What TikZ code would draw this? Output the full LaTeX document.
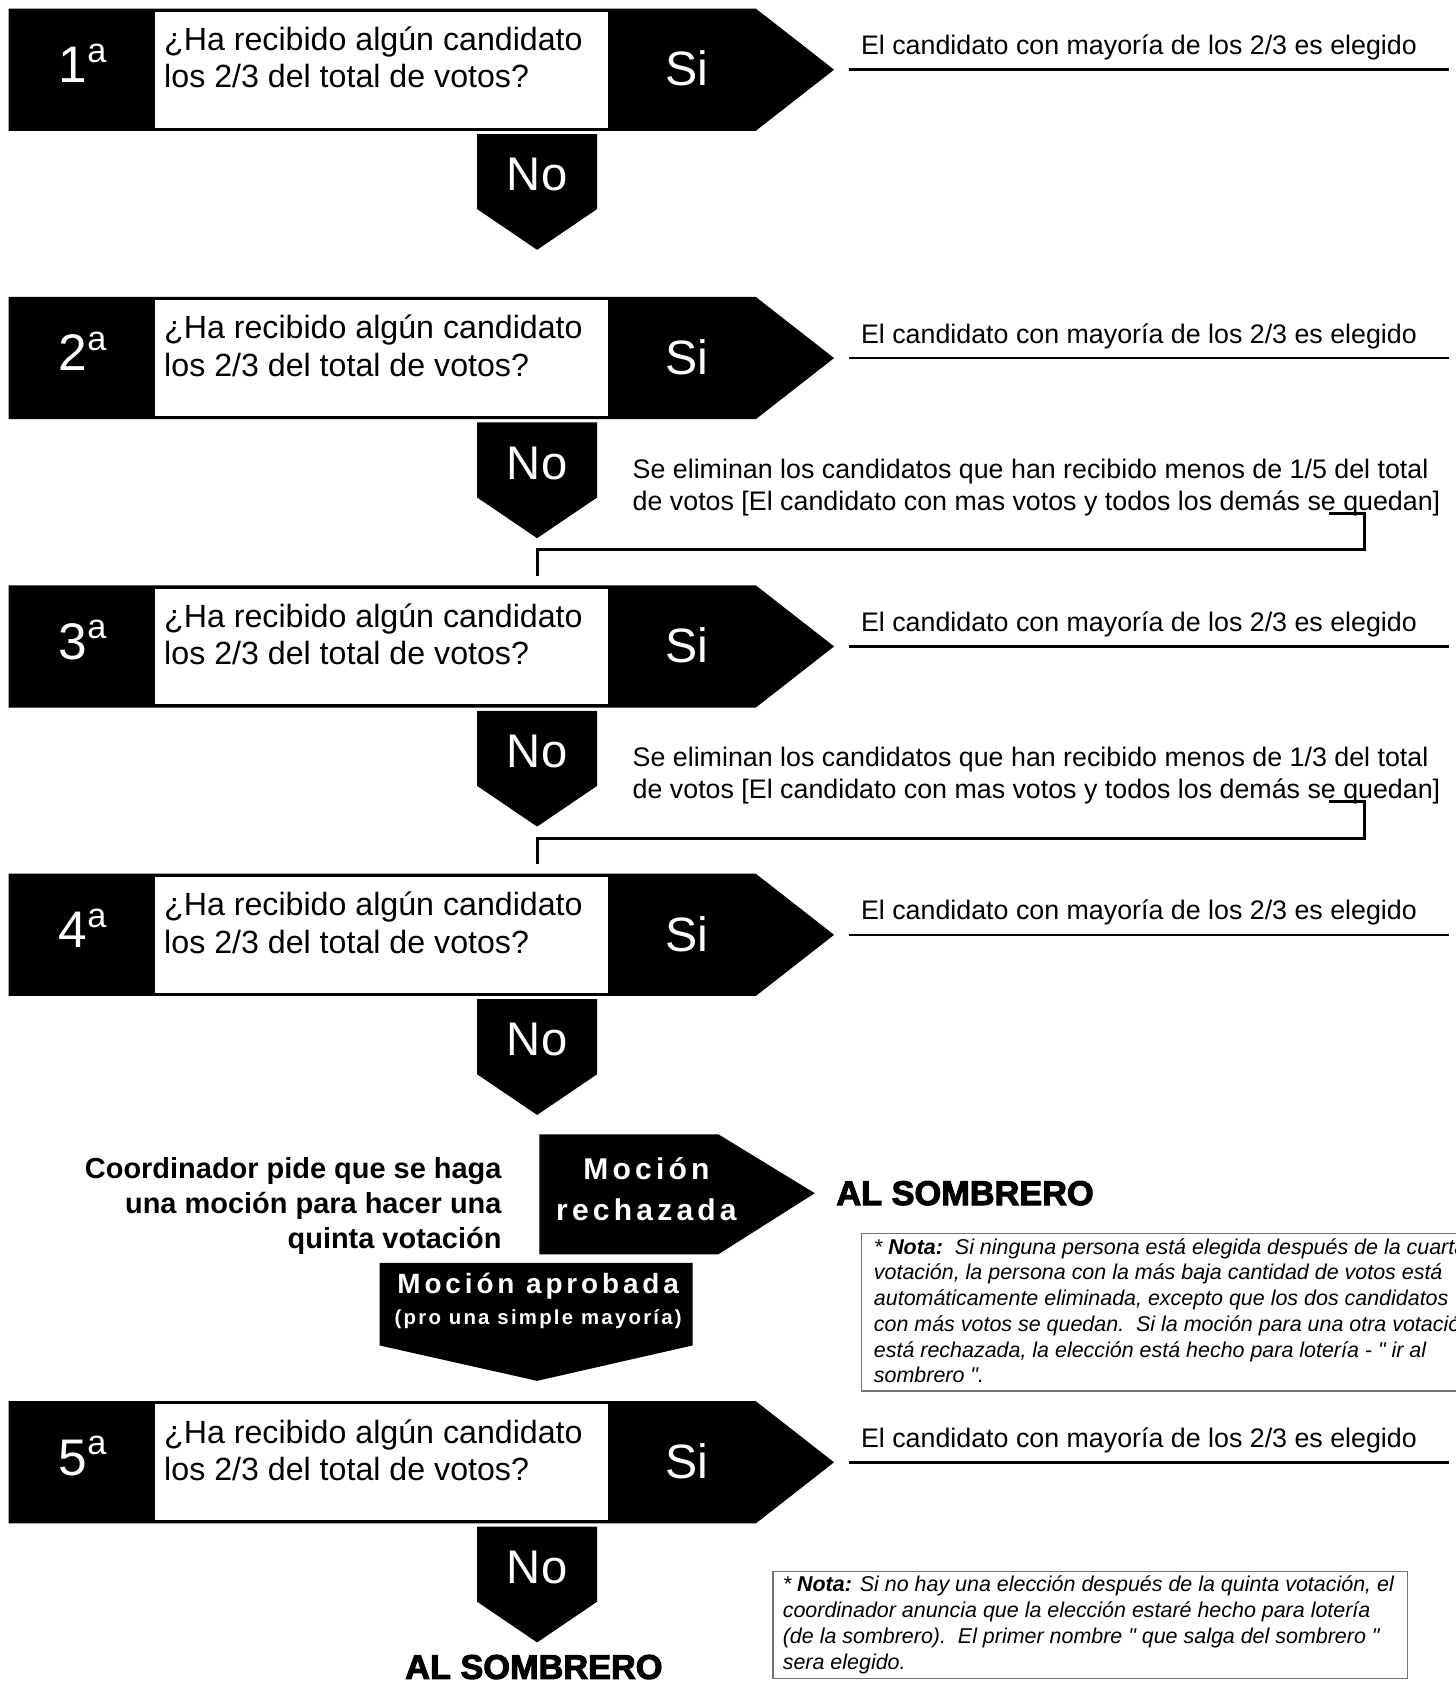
\documentclass[tikz,border=0pt]{standalone}
\usepackage{fontspec}
\setmainfont{Liberation Sans}
\newfontfamily\spacedfont[LetterSpace=14]{Liberation Sans}
\newfontfamily\smallspacedfont[LetterSpace=11]{Liberation Sans}
\newfontfamily\heavyfont[BoldFeatures={FakeBold=3}]{Liberation Sans}
\begin{document}
\begin{tikzpicture}[x=1pt,y=-1pt,
  qline/.style={anchor=base west, inner sep=0, font=\fontsize{30}{35}\selectfont},
  sitext/.style={text=white, inner sep=0, font=\fontsize{45}{45}\selectfont},
  notxt/.style={text=white, inner sep=0, font=\fontsize{44}{44}\selectfont},
  numtext/.style={text=white, anchor=base, inner sep=0},
  restext/.style={anchor=base west, inner sep=0, font=\fontsize{25}{30}\selectfont},
  resline/.style={line width=2.5pt},
  bracket/.style={line width=2.8pt},
  coordtext/.style={anchor=base east, inner sep=0, font=\fontsize{27}{33}\selectfont\bfseries},
  motiontext/.style={text=white, inner sep=0, font=\fontsize{28}{28}\selectfont\spacedfont\bfseries},
  hattext/.style={inner sep=0, font=\fontsize{32}{32}\selectfont\heavyfont\bfseries},
  notebox/.style={draw=black!55, line width=1.5pt},
  notetext/.style={anchor=north west, inner sep=0, align=left, font=\fontsize{20}{24}\selectfont\itshape}
]
\useasboundingbox (0,0) rectangle (1358,1568);
\fill[white] (0,0) rectangle (1358,1568);

\foreach \n/\T in {1/8,2/277,3/546,4/815,5/1307}{
  % row shape
  \fill (8,\T) -- (705,\T) -- (778,\T+57) -- (705,\T+114) -- (8,\T+114) -- cycle;
  \fill[white] (145,\T+3) rectangle (567,\T+111);
  \node[numtext] (num\n) at (77,\T+69) {{\fontsize{48}{48}\selectfont\n}\raisebox{19pt}{\fontsize{32}{32}\selectfont a}};
  \node[qline] (qa\n) at (153,\T+39) {¿Ha recibido algún candidato};
  \node[qline] (qb\n) at (153,\T+74) {los 2/3 del total de votos?};
  \node[sitext] (si\n) at (641,\T+56) {Si};
  % No arrow
  \fill (445,\T+117) -- (557,\T+117) -- (557,\T+187) -- (501,\T+225) -- (445,\T+187) -- cycle;
  \node[notxt] (no\n) at (501,\T+155) {No};
  % result
  \node[restext] (res\n) at (803,\T+43) {El candidato con mayoría de los 2/3 es elegido};
  \coordinate (rl\n) at (792,\T+57);
  \coordinate (rr\n) at (1352,\T+57);
  \draw[resline] (rl\n) -- (rr\n);
}

% eliminations
\node[restext] (ea2) at (590,446) {Se eliminan los candidatos que han recibido menos de 1/5 del total};
\node[restext] (eb2) at (590,476) {de votos [El candidato con mas votos y todos los demás se quedan]};
\coordinate (bs2) at (1240,479);
\coordinate (be2) at (501,537);
\draw[bracket] (bs2) -| (1273,513) -| (be2);

\node[restext] (ea3) at (590,715) {Se eliminan los candidatos que han recibido menos de 1/3 del total};
\node[restext] (eb3) at (590,745) {de votos [El candidato con mas votos y todos los demás se quedan]};
\coordinate (bs3) at (1240,748);
\coordinate (be3) at (501,806);
\draw[bracket] (bs3) -| (1273,782) -| (be3);

% coordinator
\node[coordtext] (c1) at (468,1099) {Coordinador pide que se haga};
\node[coordtext] (c2) at (468,1132) {una moción para hacer una};
\node[coordtext] (c3) at (468,1165) {quinta votación};

% motion rejected
\fill (503,1058) -- (670,1058) -- (760,1113) -- (670,1170) -- (503,1170) -- cycle;
\node[motiontext] (mr1) at (603,1090) {Moción};
\node[motiontext] (mr2) at (603,1128) {rechazada};
\node[hattext, anchor=west] (hat1) at (780,1113) {AL SOMBRERO};

% note 1
\node[notebox, anchor=north west, minimum width=620, minimum height=147, inner sep=0] (nb1) at (803,1150) {};
\node[notetext] (nt1) at (815,1155) {* \textbf{Nota:}\ \ Si ninguna persona está elegida después de la cuarta\\
votación, la persona con la más baja cantidad de votos está\\
automáticamente eliminada, excepto que los dos candidatos\\
con más votos se quedan.\ \ Si la moción para una otra votación\\
está rechazada, la elección está hecho para lotería - \textquotedbl{} ir al\\
sombrero \textquotedbl.};

% motion approved
\fill (354,1178) -- (646,1178) -- (646,1255) -- (501,1288) -- (354,1255) -- cycle;
\node[motiontext, font=\fontsize{26}{26}\selectfont\spacedfont\bfseries] (ma1) at (502,1200) {Moción aprobada};
\node[motiontext, font=\fontsize{19}{19}\selectfont\smallspacedfont\bfseries] (ma2) at (502,1230) {(pro una simple mayoría)};

% final
\node[hattext, anchor=base] (hat2) at (498,1566) {AL SOMBRERO};

% note 2
\node[notebox, anchor=north west, minimum width=592, minimum height=100, inner sep=0] (nb2) at (720,1465) {};
\node[notetext] (nt2) at (730,1470) {* \textbf{Nota:} Si no hay una elección después de la quinta votación, el\\
coordinador anuncia que la elección estaré hecho para lotería\\
(de la sombrero).\ \ El primer nombre \textquotedbl{} que salga del sombrero \textquotedbl\\
sera elegido.};
\end{tikzpicture}
\end{document}
